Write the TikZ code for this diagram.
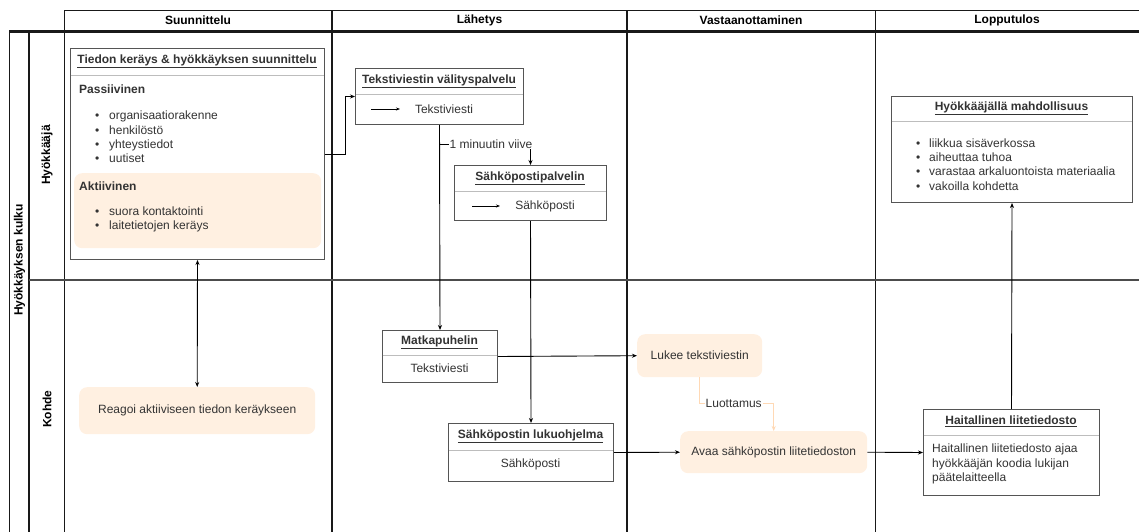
\documentclass[tikz,border=0pt]{standalone}
\usepackage{fontspec}
\setmainfont{Liberation Sans}
\usetikzlibrary{arrows.meta}
\definecolor{txt}{HTML}{333333}
\definecolor{boxline}{HTML}{555555}
\definecolor{sepline}{HTML}{BDBDBD}
\definecolor{orangefill}{HTML}{FFF0E1}
\definecolor{orangeline}{HTML}{FFD9B5}
\begin{document}
\begin{tikzpicture}[x=1pt,y=-1pt,
  font=\fontsize{12}{14.2}\selectfont,
  lane/.style={draw=black!90,line width=1.1pt},
  box/.style={draw=boxline,fill=white,line width=1pt,anchor=north west,inner sep=0pt},
  sep/.style={draw=sepline,line width=0.8pt},
  soft/.style={fill=orangefill,rounded corners=8pt,anchor=north west,inner sep=0pt,text=txt},
  ttl/.style={font=\fontsize{12}{14}\selectfont\bfseries,text=txt},
  hdr/.style={font=\fontsize{12}{14}\selectfont\bfseries},
  body/.style={text=txt},
  lst/.style={text=txt,align=left,anchor=west,inner sep=0pt},
  arr/.style={draw=black,line width=0.9pt,-{Stealth[length=5pt,width=4pt]}},
  arrL/.style={draw=orangeline,line width=0.9pt,-{Stealth[length=5pt,width=4pt]}},
  dbl/.style={draw=black,line width=0.9pt,{Stealth[length=5pt,width=4pt]}-{Stealth[length=5pt,width=4pt]}},
  lbl/.style={fill=white,inner sep=1pt,text=txt}
]
\useasboundingbox (0,0) rectangle (1139,532);
\fill[white] (0,0) rectangle (1139,532);

% ---- swimlane frame ----
\draw[lane] (64.5,10.5) -- (1139,10.5);
\draw[lane,line width=2.2pt] (9,31.5) -- (1139,31.5);
\draw[lane] (9.5,31.5) -- (9.5,532);
\draw[lane] (29,31.5) -- (29,532);
\draw[lane] (64.5,10.5) -- (64.5,532);
\draw[lane] (332,10.5) -- (332,532);
\draw[lane] (627,10.5) -- (627,532);
\draw[lane] (875.5,10.5) -- (875.5,532);
\draw[lane,draw=black!70] (29,280) -- (1139,280);

\node[hdr] (h1) at (198,20.5) {Suunnittelu};
\node[hdr] (h2) at (479.5,20.5) {Lähetys};
\node[hdr] (h3) at (751,20.5) {Vastaanottaminen};
\node[hdr] (h4) at (1007,20.5) {Lopputulos};

\node[hdr,rotate=90] (lflow) at (19.5,260) {Hyökkäyksen kulku};
\node[hdr,rotate=90] (latt) at (47,155) {Hyökkääjä};
\node[hdr,rotate=90] (ltgt) at (47,409) {Kohde};

% ---- big planning box ----
\node[box,minimum width=254pt,minimum height=211pt] (big) at (70,48) {};
\draw[sep] (70.5,75) -- (323.5,75);
\node[ttl] (bigt) at (197,61) {\underline{Tiedon keräys \& hyökkäyksen suunnittelu}};
\node[ttl,anchor=west,inner sep=0pt] (pass) at (79,89) {Passiivinen};
\node[lst] (passl) at (95,137) {\makebox[14pt][l]{\textbullet}organisaatiorakenne\\
\makebox[14pt][l]{\textbullet}henkilöstö\\
\makebox[14pt][l]{\textbullet}yhteystiedot\\
\makebox[14pt][l]{\textbullet}uutiset};
\node[soft,minimum width=247pt,minimum height=75pt] (akt) at (74,173) {};
\node[ttl,anchor=west,inner sep=0pt] (aktt) at (79,186) {Aktiivinen};
\node[lst] (aktl) at (95,219.5) {\makebox[14pt][l]{\textbullet}suora kontaktointi\\
\makebox[14pt][l]{\textbullet}laitetietojen keräys};

% ---- Tekstiviestin välityspalvelu ----
\node[box,minimum width=168pt,minimum height=56pt] (tekst) at (355,68) {};
\draw[sep] (355.5,94) -- (522.5,94);
\node[ttl] (tekstt) at (439,81) {\underline{Tekstiviestin välityspalvelu}};
\draw[line width=0.8pt,-{Stealth[length=4pt,width=3pt]}] (371,109) -- (400,109);
\node[body] (tekstb) at (444,109) {Tekstiviesti};

% ---- Sähköpostipalvelin ----
\node[box,minimum width=152pt,minimum height=55pt] (spalv) at (454,165) {};
\draw[sep] (454.5,191) -- (605.5,191);
\node[ttl] (spalvt) at (530,178) {\underline{Sähköpostipalvelin}};
\draw[line width=0.8pt,-{Stealth[length=4pt,width=3pt]}] (472,206) -- (500,206);
\node[body] (spalvb) at (545,206) {Sähköposti};

% ---- Matkapuhelin ----
\node[box,minimum width=115pt,minimum height=52pt] (matka) at (382,330) {};
\draw[sep] (382.5,355) -- (496.5,355);
\node[ttl] (matkat) at (439.5,342) {\underline{Matkapuhelin}};
\node[body] (matkab) at (439.5,368) {Tekstiviesti};

% ---- Sähköpostin lukuohjelma ----
\node[box,minimum width=165pt,minimum height=58pt] (luku) at (448,423) {};
\draw[sep] (448.5,450) -- (612.5,450);
\node[ttl] (lukut) at (530.5,436) {\underline{Sähköpostin lukuohjelma}};
\node[body] (lukub) at (530.5,464) {Sähköposti};

% ---- Vastaanottaminen ----
\node[soft,minimum width=125pt,minimum height=43pt] (lukee) at (637,334) {Lukee tekstiviestin};
\node[soft,minimum width=187pt,minimum height=42pt] (avaa) at (680,431) {Avaa sähköpostin liitetiedoston};

% ---- Reagoi ----
\node[soft,minimum width=236pt,minimum height=47pt] (reag) at (79,387) {Reagoi aktiiviseen tiedon keräykseen};

% ---- Haitallinen liitetiedosto ----
\node[box,minimum width=176pt,minimum height=86pt] (hait) at (923,409) {};
\draw[sep] (923.5,435) -- (1098.5,435);
\node[ttl] (haitt) at (1011,421) {\underline{Haitallinen liitetiedosto}};
\node[lst] (haitb) at (932,464) {Haitallinen liitetiedosto ajaa\\hyökkääjän koodia lukijan\\päätelaitteella};

% ---- Hyökkääjällä mahdollisuus ----
\node[box,minimum width=241pt,minimum height=106pt] (hyok) at (891,96) {};
\draw[sep] (891.5,121) -- (1131.5,121);
\node[ttl] (hyokt) at (1011.5,108) {\underline{Hyökkääjällä mahdollisuus}};
\node[lst] (hyokl) at (916,164.5) {\makebox[13pt][l]{\textbullet}liikkua sisäverkossa\\
\makebox[13pt][l]{\textbullet}aiheuttaa tuhoa\\
\makebox[13pt][l]{\textbullet}varastaa arkaluontoista materiaalia\\
\makebox[13pt][l]{\textbullet}vakoilla kohdetta};

% ---- connectors ----
\draw[arr] (big.east) -- ++(20,0) |- (tekst.west);
\draw[arr] (tekst.south) -- (matka.north);
\draw[arr] (tekst.south) -- ++(0,19) -| (spalv.north) node[pos=0.25,lbl,xshift=6pt] {1 minuutin viive};
\draw[arr] (spalv.south) -- (luku.north);
\draw[arr] (matka.east) -- (lukee.west);
\draw[arrL] (lukee.south) -- ++(0,26) -| (avaa.north) node[pos=0.25,lbl,xshift=-3pt] {Luottamus};
\draw[arr] (luku.east) -- (avaa.west);
\draw[arr] (avaa.east) -- (hait.west);
\draw[arr] (hait.north) -- (hyok.south);
\draw[dbl] (big.south) -- (reag.north);
\end{tikzpicture}
\end{document}
